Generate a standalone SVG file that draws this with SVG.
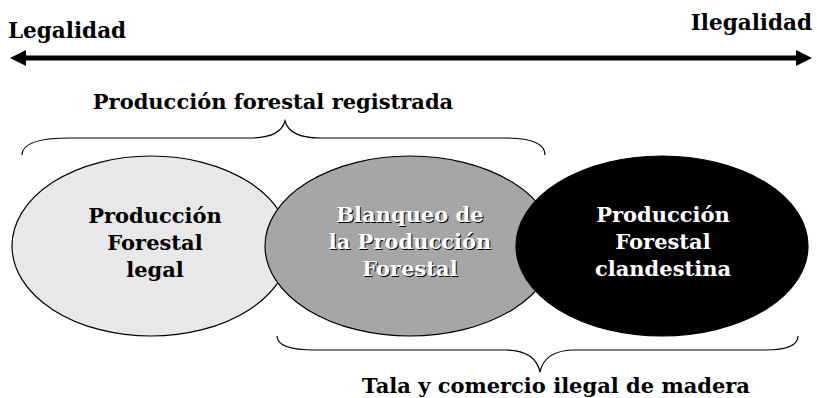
<svg xmlns="http://www.w3.org/2000/svg" width="817" height="398" viewBox="0 0 817 398">
<defs>
<style>
text{font-family:"DejaVu Serif","Liberation Serif",serif;font-weight:bold;}
.lbl{font-size:21.5px;fill:#000;}
.in{font-size:21px;text-anchor:middle;}
.brace{fill:none;stroke:#000;stroke-width:1.2;}
.ell{stroke:#000;stroke-width:1.2;}
</style>
<marker id="ah" viewBox="0 0 10 10" refX="5" refY="5" markerWidth="3.2" markerHeight="3.4" orient="auto-start-reverse">
<path d="M0,0 L10,5 L0,10 Z" fill="#000"/>
</marker>
</defs>
<rect width="817" height="398" fill="#fff"/>
<g id="axis">
<line x1="18" y1="58" x2="804" y2="58" stroke="#000" stroke-width="5" marker-start="url(#ah)" marker-end="url(#ah)"/>
<text class="lbl" x="8" y="38">Legalidad</text>
<text class="lbl" x="812" y="30" text-anchor="end">Ilegalidad</text>
</g>
<g id="connectors">
<path class="brace" d="M22,155 C22,143 40,138 70,138 L250,138 C270,138 282,132 285,121 C288,132 300,138 320,138 L505,138 C530,138 545,143 545,155"/>
<path class="brace" d="M277,336 C277,345 290,350 315,350 L505,350 C525,350 537,358 540,372 C543,358 555,350 575,350 L765,350 C788,350 798,345 798,336"/>
</g>
<g id="label-registrada">
<text class="in" x="273" y="109">Producción forestal registrada</text>
</g>
<g id="label-tala">
<text class="in" x="556" y="393">Tala y comercio ilegal de madera</text>
</g>
<g id="node-legal">
<ellipse class="ell" cx="151" cy="246" rx="139" ry="90" fill="#e8e8e8"/>
<text class="in" fill="#000"><tspan x="155" y="223">Producción</tspan><tspan x="155" y="250">Forestal</tspan><tspan x="155" y="277">legal</tspan></text>
</g>
<g id="node-blanqueo">
<ellipse class="ell" cx="410" cy="246" rx="145" ry="90" fill="#a6a6a6"/>
<text class="in" fill="#000" transform="translate(1,1)"><tspan x="410" y="222">Blanqueo de</tspan><tspan x="410" y="249">la Producción</tspan><tspan x="410" y="276">Forestal</tspan></text>
<text class="in" fill="#fff"><tspan x="410" y="222">Blanqueo de</tspan><tspan x="410" y="249">la Producción</tspan><tspan x="410" y="276">Forestal</tspan></text>
</g>
<g id="node-clandestina">
<ellipse class="ell" cx="662" cy="246" rx="146" ry="90" fill="#000"/>
<text class="in" fill="#fff"><tspan x="663" y="222">Producción</tspan><tspan x="663" y="249">Forestal</tspan><tspan x="663" y="276">clandestina</tspan></text>
</g>
</svg>
